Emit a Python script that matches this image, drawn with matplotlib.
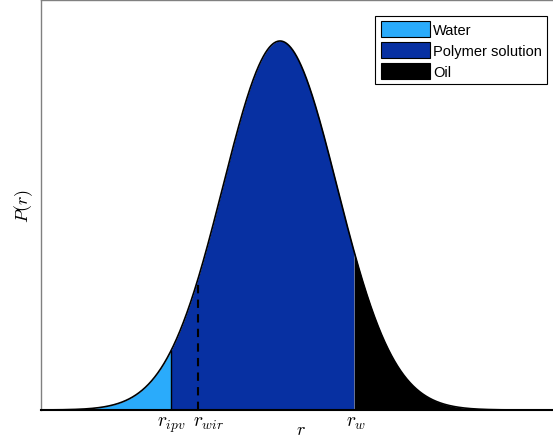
import matplotlib
import numpy as np

matplotlib.use("Agg")
import matplotlib.pyplot as plt  # noqa: E402
from matplotlib.patches import Patch  # noqa: E402

plt.rcParams["mathtext.fontset"] = "cm"
plt.rcParams["font.family"] = ["Liberation Sans", "DejaVu Sans"]

# pore size distribution (normalised r axis)
R_PEAK = 0.4596
R_SIGMA = 0.1096
P_PEAK = 0.90
R_IPV = 0.25
R_WIR = 0.302
R_W = 0.602

TICK_POS = [0.25, 0.323, 0.606]
TICK_LABELS = [r"$r_{ipv}$", r"$r_{wir}$", r"$r_w$"]

LEGEND_LABELS = ["Water", "Polymer solution", "Oil"]
COLORS = ["#2aabfb", "#0730a2", "#000000"]


def pdf(r):
    return P_PEAK * np.exp(-((r - R_PEAK) ** 2) / (2 * R_SIGMA**2))


def main():
    fig = plt.figure(figsize=(5.53, 4.39), dpi=100)
    ax = fig.add_axes([41 / 553, 1 - 411 / 439, 520 / 553, 410 / 439])

    r = np.linspace(0, 1, 2000)
    p = pdf(r)

    ax.fill_between(r, 0, p, where=r <= R_IPV, color=COLORS[0], linewidth=0)
    ax.fill_between(r, 0, p, where=(r >= R_IPV) & (r <= R_W), color=COLORS[1], linewidth=0)
    ax.fill_between(r, 0, p, where=r >= R_W, color=COLORS[2], linewidth=0)
    ax.plot(r, p, color="black", linewidth=1.2)

    ax.plot([R_IPV, R_IPV], [0, pdf(R_IPV)], color="black", linewidth=1.0)
    ax.plot([R_WIR, R_WIR], [0, pdf(R_WIR)], color="black", linewidth=1.5, linestyle=(0, (4, 3)))

    ax.set_xlim(0, 1)
    ax.set_ylim(0, 1)
    ax.set_xticks(TICK_POS)
    ax.set_xticklabels(TICK_LABELS, fontsize=14)
    ax.set_yticks([])
    ax.tick_params(axis="x", length=0, pad=3)
    ax.set_xlabel(r"$r$", fontsize=13, labelpad=-9)
    ax.set_ylabel(r"$P(r)$", fontsize=13, labelpad=4)

    for side in ["left", "top", "right"]:
        ax.spines[side].set_color("#808080")
        ax.spines[side].set_linewidth(1.0)
    ax.spines["bottom"].set_color("black")
    ax.spines["bottom"].set_linewidth(1.5)

    handles = [Patch(facecolor=c, edgecolor="black", linewidth=0.8) for c in COLORS]
    leg = ax.legend(
        handles,
        LEGEND_LABELS,
        loc="upper right",
        bbox_to_anchor=(506 / 520, 1 - 16 / 410),
        fontsize=10.5,
        handlelength=3.4,
        handleheight=1.35,
        handletextpad=0.2,
        labelspacing=0.3,
        borderpad=0.35,
        borderaxespad=0,
        fancybox=False,
        framealpha=1,
        edgecolor="black",
    )
    leg.get_frame().set_linewidth(0.8)

    fig.savefig("out.png", dpi=100)
    plt.close(fig)


if __name__ == "__main__":
    main()
